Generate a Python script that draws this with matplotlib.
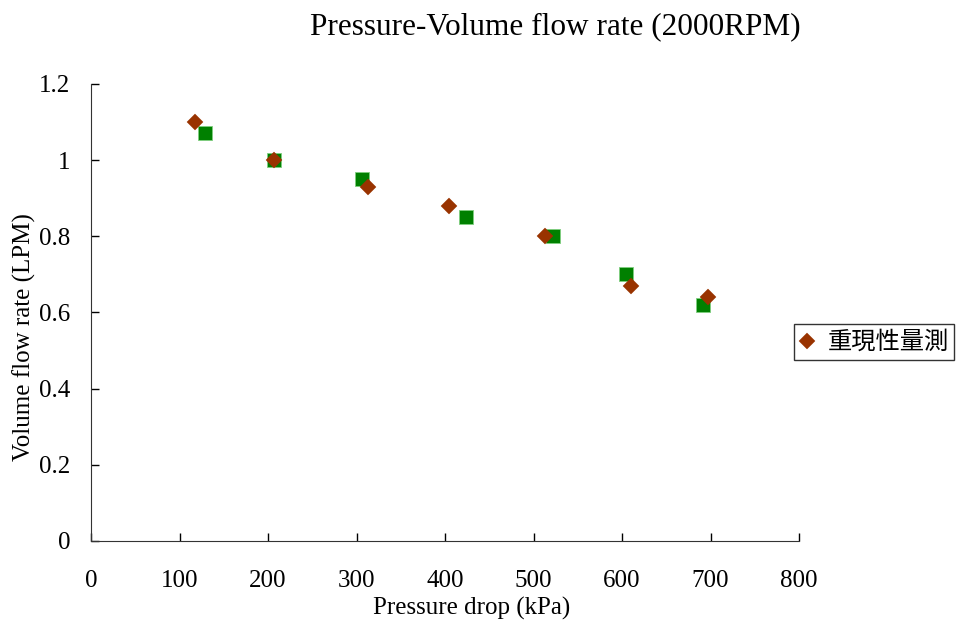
import matplotlib
matplotlib.use("Agg")
import matplotlib.pyplot as plt

# repeat measurement (diamonds, shown in legend)
rep_x = [117, 207, 313, 404, 513, 610, 697]
rep_y = [1.10, 1.00, 0.93, 0.88, 0.80, 0.67, 0.64]

# first measurement (squares)
meas_x = [129, 207, 306, 424, 522, 604, 691]
meas_y = [1.07, 1.00, 0.95, 0.85, 0.80, 0.70, 0.62]

xticks = [0, 100, 200, 300, 400, 500, 600, 700, 800]
yticks = [0, 0.2, 0.4, 0.6, 0.8, 1.0, 1.2]
ytick_labels = ["0", "0.2", "0.4", "0.6", "0.8", "1", "1.2"]

serif = ["Liberation Serif", "DejaVu Serif"]

fig = plt.figure(figsize=(9.59, 6.3), dpi=100)
ax = fig.add_axes([0.0949, 0.1413, 0.7383, 0.7254])

ax.plot(meas_x, meas_y, linestyle="none", marker="s", markersize=10,
        color="#008000", markeredgecolor="#7fcf7f", markeredgewidth=0.6)
ax.plot(rep_x, rep_y, linestyle="none", marker="D", markersize=8,
        color="#993300", markeredgecolor="#993300", markeredgewidth=0.3,
        label="重現性量測")

ax.set_xlim(0, 800)
ax.set_ylim(0, 1.2)
ax.set_xticks(xticks)
ax.set_xticklabels([str(t) for t in xticks], family=serif, fontsize=18)
ax.set_yticks(yticks)
ax.set_yticklabels(ytick_labels, family=serif, fontsize=18)
ax.tick_params(direction="in", length=6, width=1)
ax.tick_params(axis="x", pad=21)
ax.tick_params(axis="y", pad=15)

for side in ["top", "right"]:
    ax.spines[side].set_visible(False)
for side in ["left", "bottom"]:
    ax.spines[side].set_color("#333333")

ax.set_xlabel("Pressure drop (kPa)", family=serif, fontsize=18)
ax.xaxis.set_label_coords(0.537, -0.147)
ax.set_ylabel("Volume flow rate (LPM)", family=serif, fontsize=18)
ax.yaxis.set_label_coords(-0.094, 0.446)
ax.yaxis.label.set_va("center")
ax.xaxis.label.set_va("center")

fig.text(0.579, 0.958, "Pressure-Volume flow rate (2000RPM)", family=serif,
         fontsize=22.5, ha="center", va="center")

leg = ax.legend(loc="center left", bbox_to_anchor=(0.993, 0.435),
                prop={"family": ["Noto Sans CJK TC", "DejaVu Sans"], "size": 17.5},
                frameon=True, fancybox=False, handlelength=0.7,
                handletextpad=0.5, borderpad=0.2, borderaxespad=0.0)
leg.get_frame().set_edgecolor("black")
leg.get_frame().set_linewidth(1.0)

fig.savefig("out.png", dpi=100)
